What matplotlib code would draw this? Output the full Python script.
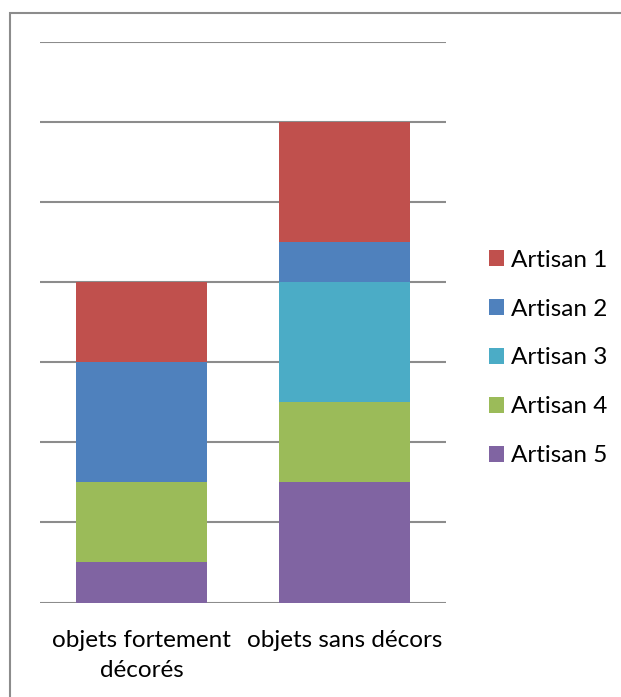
import matplotlib
matplotlib.use('Agg')
import matplotlib.pyplot as plt
from matplotlib.patches import Rectangle

plt.rcParams['font.family'] = ['Lato', 'DejaVu Sans']

# Données
categories = ['objets fortement\ndécorés', 'objets sans décors']
artisans = ['Artisan 1', 'Artisan 2', 'Artisan 3', 'Artisan 4', 'Artisan 5']
artisan_1 = [2, 3]
artisan_2 = [3, 1]
artisan_3 = [0, 3]
artisan_4 = [2, 2]
artisan_5 = [1, 3]
colors = ['#C0504D', '#4F81BD', '#4BACC6', '#9BBB59', '#8064A2']

fig = plt.figure(figsize=(6.21, 6.97), dpi=100)
ax = fig.add_axes([40 / 621, 94.5 / 697, 406 / 621, 560.5 / 697])

series = [artisan_1, artisan_2, artisan_3, artisan_4, artisan_5]
x = list(range(len(categories)))
bottom = [0] * len(categories)
handles = {}
# empiler depuis Artisan 5 (en bas) jusqu'à Artisan 1 (en haut)
for i in reversed(range(len(artisans))):
    b = ax.bar(x, series[i], bottom=bottom, width=0.645, color=colors[i],
               label=artisans[i], zorder=3)
    handles[artisans[i]] = b
    bottom = [bb + v for bb, v in zip(bottom, series[i])]

ax.set_xlim(-0.5, 1.5)
ax.set_ylim(0, 14)
ax.set_yticks(range(0, 15, 2))
ax.yaxis.grid(True, color='#8C8C8C', linewidth=1.5, zorder=0)
ax.set_axisbelow(True)
ax.tick_params(axis='y', left=False, labelleft=False)
ax.tick_params(axis='x', bottom=False, labelsize=17.5, pad=16)
ax.set_xticks(x)
ax.set_xticklabels(categories, linespacing=1.55)
for s in ax.spines.values():
    s.set_visible(False)

ax.legend([handles[a] for a in artisans], artisans, loc='center left',
          bbox_to_anchor=(489 / 621, 1 - 358 / 697),
          bbox_transform=fig.transFigure, frameon=False, fontsize=17.5,
          handlelength=0.62, handleheight=0.62, handletextpad=0.3,
          labelspacing=1.15, borderpad=0, borderaxespad=0)

fig.add_artist(Rectangle((9.5 / 621, -0.05), 1.1, 1.05 - 13.5 / 697,
                         transform=fig.transFigure, fill=False,
                         edgecolor='#8C8C8C', linewidth=1.5, clip_on=False))

fig.savefig('out.png', dpi=100)
